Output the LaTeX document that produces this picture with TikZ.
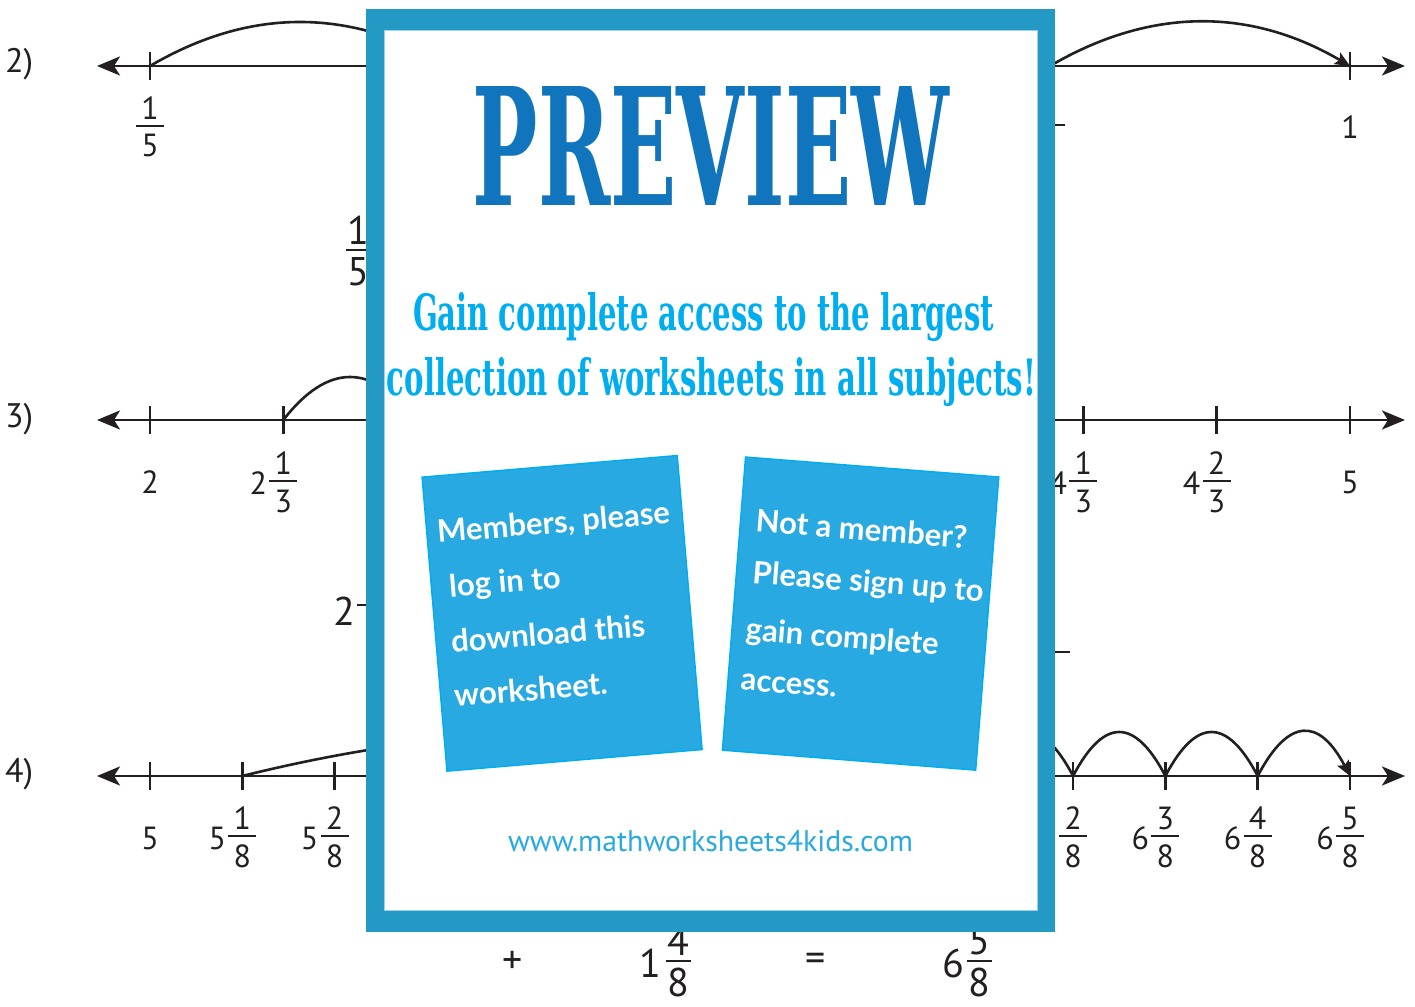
\documentclass[tikz,border=0pt]{standalone}
\usepackage{fontspec}
\setmainfont{PT Sans}
\newfontfamily\slab{DejaVu Serif}
\newfontfamily\hand{Lato}
\usetikzlibrary{arrows.meta}
\definecolor{ink}{RGB}{35,31,32}
\definecolor{frameblue}{RGB}{37,153,198}
\definecolor{previewblue}{RGB}{16,117,188}
\definecolor{cyantext}{RGB}{0,174,239}
\definecolor{cardblue}{RGB}{41,169,225}
\definecolor{cardedge}{RGB}{0,174,239}
\newcommand\lfrac[5]{% name, x, ybar, num, den
  \draw[fbar] ({#2-14},#3) -- ({#2+14},#3);
  \node[lab] (#1n) at (#2,{#3+17.5}) {#4};
  \node[lab] (#1d) at (#2,{#3-20}) {#5};}
\newcommand\lmixed[6]{% name, x, ybar, whole, num, den
  \node[lab] (#1w) at ({#2-25},{#3-2}) {#4};
  \lfrac{#1}{#2}{#3}{#5}{#6}}
\newcommand\efrac[5]{% name, x, ybar, num, den
  \draw[fbar] ({#2-12.5},#3) -- ({#2+12.5},#3);
  \node[eq] (#1n) at (#2,{#3+20}) {#4};
  \node[eq] (#1d) at (#2,{#3-21.5}) {#5};}
\newcommand\jumparc[5]{% x1, x2, y, height, style
  \draw[#5] (#1,#3) .. controls ({#1+(#2-#1)/3},{#3+#4*4/3}) and ({#1+2*(#2-#1)/3},{#3+#4*4/3}) .. (#2,#3);}
\begin{document}
\begin{tikzpicture}[x=1pt,y=1pt,
  nl/.style={draw=ink, line width=2.8pt, {Stealth[length=23pt,width=19pt,inset=6pt]}-{Stealth[length=23pt,width=19pt,inset=6pt]}},
  tk/.style={draw=ink, line width=2.8pt},
  fbar/.style={draw=ink, line width=2.3pt},
  jump/.style={draw=ink, line width=2.6pt},
  jumpend/.style={jump, -{Stealth[length=15pt,width=13pt,inset=3pt]}},
  lab/.style={text=ink, font=\fontsize{32}{32}\selectfont, inner sep=0pt},
  rowlab/.style={text=ink, font=\fontsize{34}{34}\selectfont, inner sep=0pt, anchor=west},
  eq/.style={text=ink, font=\fontsize{40}{40}\selectfont, inner sep=0pt},
  card/.style={fill=cardblue, draw=cardedge, line width=1.5pt, inner sep=0pt},
  cardtext/.style={text=white, font=\hand\bfseries\fontsize{31}{31}\selectfont, inner sep=0pt, anchor=base west, transform shape}]
\useasboundingbox (0,0) rectangle (1415,1006);
\fill[white] (0,0) rectangle (1415,1006);

% ---------- row 2 ----------
\node[rowlab] (r2) at (5,942) {2)};
\coordinate (a2l) at (97,940);
\coordinate (a2r) at (1405,940);
\draw[nl] (a2l) -- (a2r);
\foreach \i in {0,...,4} \draw[tk] ({150+300*\i},926) -- ++(0,28);
\jumparc{150}{450}{940}{44}{jump}
\jumparc{450}{750}{940}{44}{jump}
\jumparc{750}{1050}{940}{44}{jump}
\jumparc{1050}{1350}{940}{44}{jumpend}
\lfrac{l2a}{150}{880}{1}{5}
\node[lab] (l2b) at (1350,879) {1};
\draw[fbar] (1040,881) -- (1065,881);
\efrac{e2a}{358}{756}{1}{5}

% ---------- row 3 ----------
\node[rowlab] (r3) at (5,587) {3)};
\coordinate (a3l) at (97,586);
\coordinate (a3r) at (1405,586);
\draw[nl] (a3l) -- (a3r);
\foreach \i in {0,...,9} \draw[tk] ({150+133.333*\i},572) -- ++(0,28);
\jumparc{283.33}{416.67}{586}{43}{jump}
\node[lab] (l3a) at (150,524) {2};
\lmixed{l3b}{283.33}{525}{2}{1}{3}
\lmixed{l3c}{1083.33}{525}{4}{1}{3}
\lmixed{l3d}{1216.67}{525}{4}{2}{3}
\node[lab] (l3e) at (1350,524) {5};
\node[eq] (e3w) at (344.5,395) {2};
\draw[fbar] (357,401) -- (383,401);
\draw[fbar] (1050,354) -- (1070,354);

% ---------- row 4 ----------
\node[rowlab] (r4) at (5,232) {4)};
\coordinate (a4l) at (97,230);
\coordinate (a4r) at (1405,230);
\draw[nl] (a4l) -- (a4r);
\foreach \i in {0,...,13} \draw[tk] ({150+92.3077*\i},216) -- ++(0,28);
\jumparc{242.31}{980.77}{230}{46}{jump}
\jumparc{980.77}{1073.08}{230}{44}{jump}
\jumparc{1073.08}{1165.38}{230}{44}{jump}
\jumparc{1165.38}{1257.69}{230}{44}{jump}
\jumparc{1257.69}{1350}{230}{44}{jumpend}
\node[lab] (l4a) at (150,168) {5};
\lmixed{l4b}{242.31}{170}{5}{1}{8}
\lmixed{l4c}{334.62}{170}{5}{2}{8}
\lfrac{l4d}{1073.08}{170}{2}{8}
\lmixed{l4e}{1165.38}{170}{6}{3}{8}
\lmixed{l4f}{1257.69}{170}{6}{4}{8}
\lmixed{l4g}{1350}{170}{6}{5}{8}
% bottom equation
\node[eq] (eplus) at (512.6,44) {+};
\node[eq] (e4w1) at (650,42.5) {1};
\efrac{e4a}{678}{45}{4}{8}
\node[eq] (eeq) at (815.6,44) {=};
\node[eq] (e4w2) at (953.5,42.5) {6};
\efrac{e4b}{979.5}{45}{5}{8}

% ---------- preview overlay ----------
\fill[frameblue] (366,74) rectangle (1055,996.5);
\filldraw[fill=white, draw=frameblue!45, line width=1pt] (384,95) rectangle (1037,975);
\node[inner sep=0pt, text=previewblue] (title) at (711,860.5)
  {\resizebox{476pt}{119pt}{\slab\bfseries PREVIEW}};
\node[inner sep=0pt, text=cyantext, anchor=base] (gain1) at (703.5,675)
  {\resizebox{581pt}{38pt}{\slab\bfseries Gain complete access to the largest}};
\node[inner sep=0pt, text=cyantext, anchor=base] (gain2) at (711.5,610)
  {\resizebox{649pt}{38pt}{\slab\bfseries collection of worksheets in all subjects!}};

\node[card, rotate=4.84, minimum width=256pt, minimum height=295pt] (cardL) at (562.1,392.65) {};
\begin{scope}[shift={(cardL.center)}, rotate=4.84]
  \node[cardtext] (cl1) at (-117.7,80.6) {Members, please};
  \node[cardtext] (cl2) at (-110.3,25.7) {log in to};
  \node[cardtext] (cl3) at (-113.1,-30.2) {download this};
  \node[cardtext] (cl4) at (-114.6,-84.3) {worksheet.};
\end{scope}

\node[card, rotate=-4.51, minimum width=254pt, minimum height=294pt] (cardR) at (860.6,392.4) {};
\begin{scope}[shift={(cardR.center)}, rotate=-4.51]
  \node[cardtext] (cr1) at (-111.7,73.3) {Not a member?};
  \node[cardtext] (cr2) at (-110.9,21.6) {Please sign up to};
  \node[cardtext] (cr3) at (-113.2,-35.4) {gain complete};
  \node[cardtext] (cr4) at (-114.2,-85.6) {access.};
\end{scope}

\node[inner sep=0pt, text=cardblue] (url) at (710.5,165)
  {\resizebox{405pt}{!}{\fontsize{26}{26}\selectfont www.mathworksheets4kids.com}};
\end{tikzpicture}
\end{document}
